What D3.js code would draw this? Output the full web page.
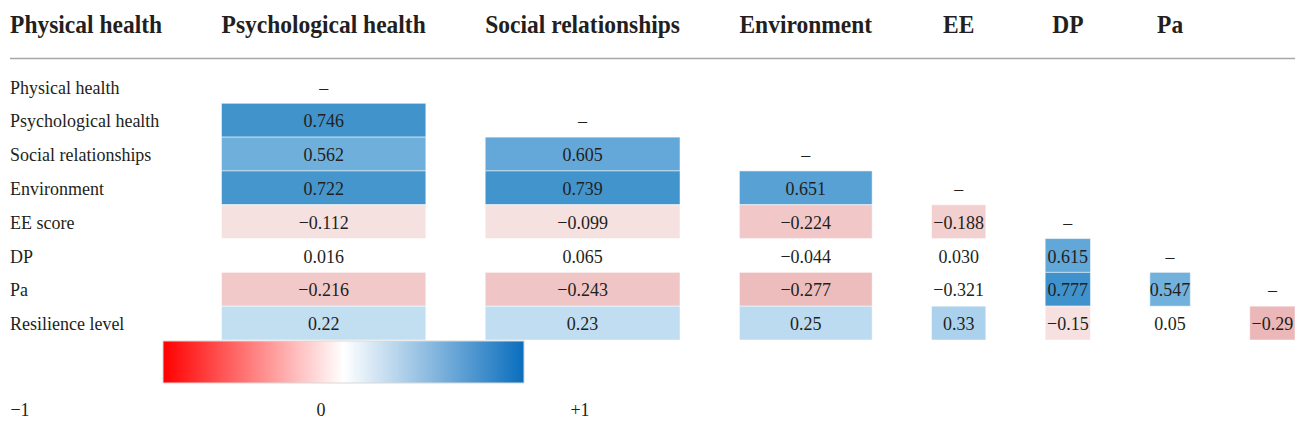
<!DOCTYPE html>
<html>
<head>
<meta charset="utf-8">
<script src="https://cdn.jsdelivr.net/npm/d3@7"></script>
<style>
body { margin: 0; background: #fff; }
svg { display: block; font-family: "Liberation Serif", "Times New Roman", serif; }
</style>
</head>
<body>
<div id="chart"></div>
<script>

// header row (shifted one column left, as in the source table)
const headers = ['Physical health', 'Psychological health', 'Social relationships', 'Environment', 'EE', 'DP', 'Pa']

const rowLabels = ['Physical health', 'Psychological health', 'Social relationships', 'Environment', 'EE score', 'DP', 'Pa', 'Resilience level']

// lower triangle of the correlation matrix, one array per row
const values = [
	[],
	[0.746],
	[0.562, 0.605],
	[0.722, 0.739, 0.651],
	[-0.112, -0.099, -0.224, -0.188],
	[0.016, 0.065, -0.044, 0.030, 0.615],
	[-0.216, -0.243, -0.277, -0.321, 0.777, 0.547],
	[0.22, 0.23, 0.25, 0.33, -0.15, 0.05, -0.29]
]

// decimals printed per row
const rowDigits = [3, 3, 3, 3, 3, 3, 3, 2]

// 1 = cell is shaded
const shaded = [
	[],
	[1],
	[1, 1],
	[1, 1, 1],
	[1, 1, 1, 1],
	[0, 0, 0, 0, 1],
	[1, 1, 1, 0, 1, 1],
	[1, 1, 1, 1, 1, 0, 1]
]

const legendTicks = [-1, 0, 1]

const width = 1295, height = 432
const left = 10
const textColor = '#231f20'
const stretch = 'scale(1,1.1)'

const fmt = (v, dg) => (v < 0 ? '\u2212' : '') + Math.abs(v).toFixed(dg)
const tickFmt = v => v < 0 ? '\u2212' + Math.abs(v) : v > 0 ? '+' + v : '' + v

const svg = d3.select('#chart')
.append('svg')
.attr('width', width)
.attr('height', height)

// measure text so columns size like an html table
const measure = (str, size, weight) => {
	const t = svg.append('text')
	.style('font-size', size + 'px')
	.style('font-weight', weight)
	.text(str)
	const w = t.node().getComputedTextLength()
	t.remove()
	return w
}

// the original minus glyph is wider, so pad it when sizing columns
const minusPad = measure('\u2009', 18, 'normal')

const nCols = 8
let colW = d3.range(nCols).map(c => {
	let ws = []
	if (c < headers.length) ws.push(measure(headers[c], 23.5, 'bold'))
	if (c === 0) rowLabels.forEach(l => ws.push(measure(l, 18, 'normal')))
	else {
		values.forEach((row, r) => {
			if (row.length >= c) {
				const v = row[c - 1]
				ws.push(measure(fmt(v, rowDigits[r]), 18, 'normal') + (v < 0 ? minusPad : 0))
			}
		})
		ws.push(measure('\u2013', 18, 'normal'))
	}
	return d3.max(ws)
})

const gap = (width - left - d3.sum(colW)) / (nCols - 1)
const colX = []
colW.reduce((x, w) => { colX.push(x); return x + w + gap }, left)

const y = d3.scaleBand()
.domain(d3.range(rowLabels.length))
.range([69.5, 340])

const blue = d3.scaleLinear()
.domain([0.2, 0.33, 0.6, 0.75])
.range(['#c6e1f3', '#acd1ec', '#65a9d9', '#3f92cb'])
.clamp(true)

const red = d3.scaleLinear()
.domain([-0.29, -0.26, -0.2, -0.15, -0.1])
.range(['#ebb7b8', '#efc2c2', '#f2cbcb', '#f6e0e0', '#f6e1e1'])
.clamp(true)

const color = v => v >= 0 ? blue(v) : red(v)

// header
svg.append('g')
.selectAll('text')
.data(headers)
.enter()
.append('text')
.attr('transform', (d, i) => `translate(${colX[i] + colW[i] / 2},33) ${stretch}`)
.attr('text-anchor', 'middle')
.style('font-size', '23.5px')
.style('font-weight', 'bold')
.style('fill', textColor)
.text(d => d)

svg.append('line')
.attr('x1', left)
.attr('x2', width)
.attr('y1', 58.5)
.attr('y2', 58.5)
.style('stroke', '#a8a8a8')
.style('stroke-width', 1.3)

// row labels
svg.append('g')
.selectAll('text')
.data(rowLabels)
.enter()
.append('text')
.attr('transform', (d, i) => `translate(${colX[0]},${y(i) + 24}) ${stretch}`)
.style('font-size', '18px')
.style('fill', textColor)
.text(d => d)

// cells
const cells = []
values.forEach((row, r) => {
	row.forEach((v, c) => cells.push({ r, c: c + 1, v, shade: shaded[r][c], dg: rowDigits[r] }))
	if (r + 1 < nCols) cells.push({ r, c: r + 1, v: null })
})

const cellG = svg.append('g')

cellG.selectAll('rect')
.data(cells.filter(d => d.v !== null && d.shade))
.enter()
.append('rect')
.attr('x', d => colX[d.c])
.attr('y', d => y(d.r))
.attr('width', d => colW[d.c])
.attr('height', y.bandwidth())
.style('fill', d => color(d.v))
.style('stroke', '#fff')
.style('stroke-opacity', 0.5)
.style('stroke-width', 1)

cellG.selectAll('text')
.data(cells)
.enter()
.append('text')
.attr('transform', d => `translate(${colX[d.c] + colW[d.c] / 2},${y(d.r) + 24}) ${stretch}`)
.attr('text-anchor', 'middle')
.style('font-size', '18px')
.style('fill', textColor)
.text(d => d.v === null ? '\u2013' : fmt(d.v, d.dg))

// colour legend
const legendColor = d3.scaleLinear()
.domain([-1, 0, 1])
.range(['#ff0000', '#ffffff', '#0a6ebd'])

const grad = svg.append('defs')
.append('linearGradient')
.attr('id', 'legend-grad')

grad.selectAll('stop')
.data(d3.range(0, 1.0001, 0.05))
.enter()
.append('stop')
.attr('offset', d => d * 100 + '%')
.attr('stop-color', d => legendColor(d * 2 - 1))

svg.append('rect')
.attr('x', 163)
.attr('y', 341)
.attr('width', 361)
.attr('height', 42)
.style('fill', 'url(#legend-grad)')
.style('stroke', '#d8d8d8')
.style('stroke-width', 1)

const legendX = d3.scaleLinear()
.domain([-1, 0, 1])
.range([20, 321, 580])

svg.append('g')
.selectAll('text')
.data(legendTicks)
.enter()
.append('text')
.attr('transform', d => `translate(${legendX(d)},416) ${stretch}`)
.attr('text-anchor', 'middle')
.style('font-size', '18px')
.style('fill', textColor)
.text(tickFmt)

</script>
</body>
</html>
